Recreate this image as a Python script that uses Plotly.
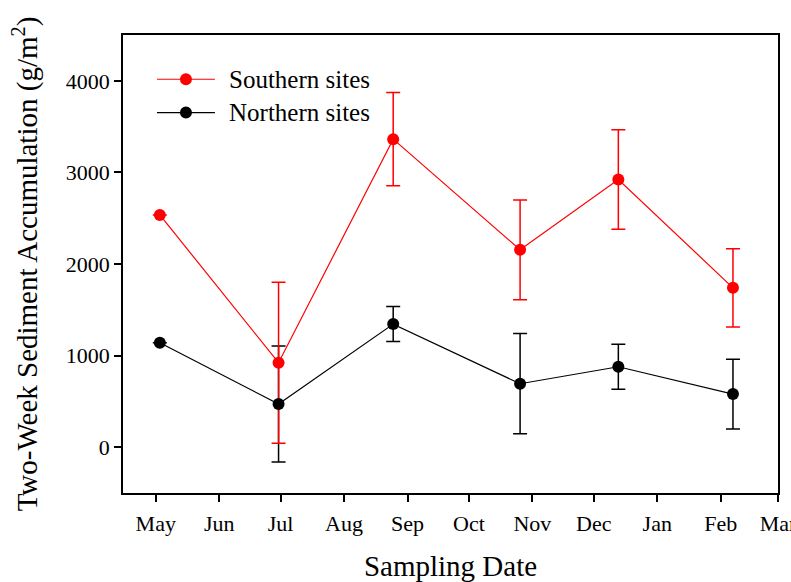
import plotly.graph_objects as go

# ---- data ----
sample_dates = ['2006-05-03', '2006-06-30', '2006-08-25', '2006-10-26', '2006-12-13', '2007-02-07']
southern = [2536, 922, 3363, 2155, 2922, 1740]
southern_err = [None, 880, 510, 545, 543, 427]
northern = [1140, 471, 1344, 693, 878, 580]
northern_err = [None, 633, 191, 547, 245, 380]

month_ticks = ['2006-05-01', '2006-06-01', '2006-07-01', '2006-08-01', '2006-09-01', '2006-10-01',
               '2006-11-01', '2006-12-01', '2007-01-01', '2007-02-01', '2007-03-01']
month_labels = ['May', 'Jun', 'Jul', 'Aug', 'Sep', 'Oct', 'Nov', 'Dec', 'Jan', 'Feb', 'Mar']
y_ticks = [0, 1000, 2000, 3000, 4000]

RED = '#ff0000'
BLACK = '#000000'
FONT = 'Liberation Serif, Times New Roman, serif'

fig = go.Figure()

# error bars first (so markers sit on top of both series' bars)
fig.add_trace(go.Scatter(x=sample_dates, y=northern, mode='markers',
                         marker=dict(size=0.1, color='rgba(0,0,0,0)'),
                         error_y=dict(type='data', array=northern_err, color=BLACK,
                                      thickness=1.5, width=7),
                         showlegend=False, hoverinfo='skip'))
fig.add_trace(go.Scatter(x=sample_dates, y=southern, mode='markers',
                         marker=dict(size=0.1, color='rgba(0,0,0,0)'),
                         error_y=dict(type='data', array=southern_err, color=RED,
                                      thickness=1.5, width=7),
                         showlegend=False, hoverinfo='skip'))
# lines + markers
fig.add_trace(go.Scatter(x=sample_dates, y=northern, mode='lines+markers', name='Northern sites',
                         line=dict(color=BLACK, width=1.2),
                         marker=dict(size=12, color=BLACK), showlegend=False))
fig.add_trace(go.Scatter(x=sample_dates, y=southern, mode='lines+markers', name='Southern sites',
                         line=dict(color=RED, width=1.2),
                         marker=dict(size=12, color=RED), showlegend=False))

# ---- legend (drawn in paper coordinates) ----
plot_l, plot_r, plot_t, plot_b = 123, 778.5, 34.7, 493.0
def px(xp):
    return (xp - plot_l) / (plot_r - plot_l)
def py(yp):
    return (plot_b - yp) / (plot_b - plot_t)

legend_items = [('Southern sites', RED, 79), ('Northern sites', BLACK, 112.3)]
shapes = []
annotations = []
for label, col, ypix in legend_items:
    shapes.append(dict(type='line', xref='paper', yref='paper', x0=px(157), x1=px(215),
                       y0=py(ypix), y1=py(ypix), line=dict(color=col, width=1.2)))
    shapes.append(dict(type='circle', xref='paper', yref='paper', xsizemode='pixel', ysizemode='pixel',
                       xanchor=px(186), yanchor=py(ypix), x0=-6, x1=6, y0=-6, y1=6,
                       fillcolor=col, line=dict(color=col, width=0)))
    annotations.append(dict(xref='paper', yref='paper', x=px(227), y=py(ypix), xanchor='left',
                            yanchor='middle', text=label, showarrow=False,
                            font=dict(family=FONT, size=25, color='black')))

fig.update_layout(
    template='none',
    width=791, height=582,
    margin=dict(l=123, r=791 - 778.5, t=34.7, b=582 - 493, pad=0),
    paper_bgcolor='white', plot_bgcolor='white',
    font=dict(family=FONT, color='black'),
    shapes=shapes, annotations=annotations,
    showlegend=False,
)
fig.update_xaxes(type='date', range=['2006-04-15', '2007-03-01'], automargin=False,
                 tickvals=month_ticks, ticktext=month_labels, ticklabeloverflow='allow',
                 ticklabelstandoff=3,
                 tickfont=dict(family=FONT, size=22), ticks='outside', ticklen=7, tickwidth=1.5,
                 tickcolor='black', showline=True, linecolor='black', linewidth=1.5, mirror=True,
                 showgrid=False, zeroline=False,
                 title=dict(text='Sampling Date', font=dict(family=FONT, size=29), standoff=24))
fig.update_yaxes(range=[-500, 4500], tickvals=y_ticks, automargin=False,
                 tickfont=dict(family=FONT, size=22), ticks='outside', ticklen=7, tickwidth=1.5,
                 tickcolor='black', showline=True, linecolor='black', linewidth=1.5, mirror=True,
                 showgrid=False, zeroline=False,
                 title=dict(text='Two-Week Sediment Accumulation (g/m<sup>2</sup>)',
                            font=dict(family=FONT, size=29), standoff=20))

fig.write_html('out.html', config={'displayModeBar': False},
               post_script="document.body.style.margin='0';document.body.style.overflow='hidden';")
